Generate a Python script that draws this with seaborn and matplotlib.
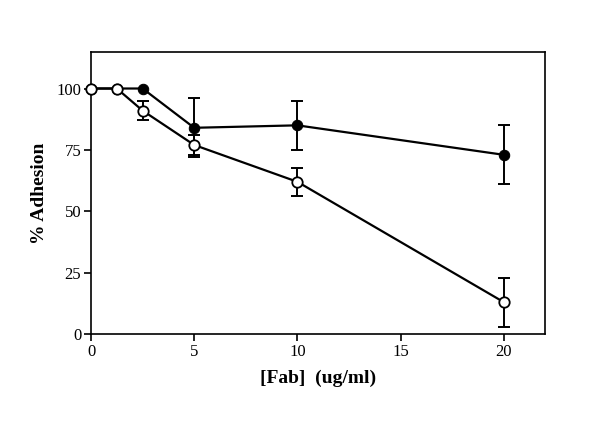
import numpy as np
import pandas as pd
import matplotlib
matplotlib.use('Agg')
import matplotlib.pyplot as plt
import seaborn as sns

# data
fab = [0, 1.25, 2.5, 5, 10, 20]
filled_y = [100, 100, 100, 84, 85, 73]
filled_err = [0, 0, 0, 12, 10, 12]
open_y = [100, 100, 91, 77, 62, 13]
open_err = [0, 0, 4, 4, 5.7, 10]

sns.set_style('white')
plt.rcParams['font.family'] = ['Liberation Serif', 'DejaVu Serif']
plt.rcParams['text.color'] = 'black'
plt.rcParams['axes.labelcolor'] = 'black'
plt.rcParams['xtick.color'] = 'black'
plt.rcParams['ytick.color'] = 'black'

fig = plt.figure(figsize=(6, 4.38), dpi=100)
ax = fig.add_axes([0.1517, 0.2374, 0.7566, 0.6446])

df_f = pd.DataFrame({'x': fab, 'y': filled_y})
df_o = pd.DataFrame({'x': fab, 'y': open_y})

# filled series
ax.errorbar(fab[3:], filled_y[3:], yerr=filled_err[3:], fmt='none',
            ecolor='black', elinewidth=1.4, capsize=4, capthick=1.4, zorder=2)
sns.lineplot(data=df_f, x='x', y='y', ax=ax, color='black', lw=1.6,
             marker='o', markersize=7.5, markerfacecolor='black',
             markeredgecolor='black', zorder=3)

# open series
ax.errorbar(fab[2:], open_y[2:], yerr=open_err[2:], fmt='none',
            ecolor='black', elinewidth=1.4, capsize=4, capthick=1.4, zorder=4)
sns.lineplot(data=df_o, x='x', y='y', ax=ax, color='black', lw=1.6,
             marker='o', markersize=7.5, markerfacecolor='white',
             markeredgecolor='black', markeredgewidth=1.3, zorder=5)

for m in ax.lines:
    m.set_clip_on(False)

ax.set_xlim(0, 22)
ax.set_ylim(0, 115)
ax.set_xticks([0, 5, 10, 15, 20])
ax.set_yticks([0, 25, 50, 75, 100])
ax.tick_params(axis='both', which='major', labelsize=12, direction='out',
               length=5, width=1.2, color='black', pad=2,
               bottom=True, left=True, top=False, right=False)
ax.tick_params(axis='x', pad=2)
for s in ax.spines.values():
    s.set_color('black')
    s.set_linewidth(1.2)

ax.set_xlabel('[Fab]  (ug/ml)', fontsize=14, fontweight='bold', labelpad=7)
ax.set_ylabel('% Adhesion', fontsize=14, fontweight='bold', labelpad=6)

fig.savefig('out.png', dpi=100)
